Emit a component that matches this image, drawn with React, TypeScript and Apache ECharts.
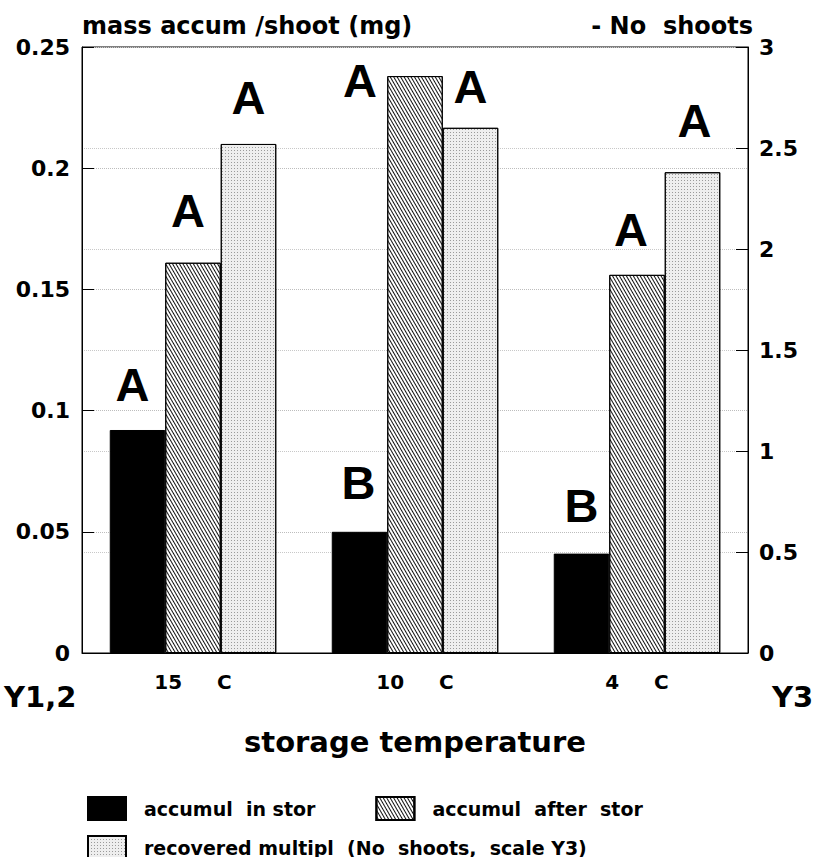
import React, { useEffect, useRef } from "react";
import * as echarts from "echarts";

// ---- data ----
const temperatures = ["15", "10", "4"];
const accumulInStor = [0.092, 0.05, 0.041];
const accumulAfterStor = [0.161, 0.238, 0.156];
const recoveredMultipl = [2.52, 2.6, 2.38]; // number of shoots, scale Y3
const lettersIn = ["A", "B", "B"];
const lettersAfter = ["A", "A", "A"];
const lettersRecovered = ["A", "A", "A"];
const leftTicks = { min: 0, max: 0.25, interval: 0.05 };
const rightTicks = { min: 0, max: 3, interval: 0.5 };

// ---- styling (label placement offsets, px) ----
const offsIn = [[-5, -22], [-1, -26], [0, -25]];
const offsAfter = [[-5, -29], [-55, 28], [-6, -22]];
const offsRec = [[0, -23], [0, -18], [2, -28]];

const FONT = '"DejaVu Sans", sans-serif';
const LFONT = '"Liberation Sans", Arial, sans-serif';

const hatchDecal = {
  symbol: "rect",
  symbolSize: 1,
  dashArrayX: [1, 0],
  dashArrayY: [1, 1.7],
  rotation: Math.PI / 3,
  color: "#111",
  backgroundColor: "#ffffff",
};
const dotDecal = {
  symbol: "rect",
  symbolSize: 1,
  dashArrayX: [1, 2],
  dashArrayY: [1, 2],
  color: "#9a9a9a",
  backgroundColor: "#eeeeee",
};

function withLetters(values: number[], letters: string[], offs: number[][]) {
  return values.map((v, i) => ({
    value: v,
    label: {
      show: true,
      position: "top",
      distance: 0,
      formatter: letters[i],
      offset: offs[i],
    },
  }));
}

const letterLabel = {
  show: true,
  fontFamily: LFONT,
  fontWeight: "bold",
  fontSize: 47,
  color: "#000",
};

export default function App() {
  const ref = useRef<HTMLDivElement>(null);
  useEffect(() => {
    if (!ref.current) return;
    const chart = echarts.init(ref.current, null, { renderer: "svg" });
    const axisText = { fontFamily: FONT, fontWeight: "bold", color: "#000" };
    chart.setOption({
      animation: false,
      backgroundColor: "#fff",
      grid: {
        left: 82,
        right: 71,
        top: 47,
        bottom: 204,
        show: true,
        borderColor: "#000",
        borderWidth: 1,
      },
      legend: [
        {
          data: ["accumul  in stor", "accumul  after  stor"],
          left: 82,
          top: 791,
          itemWidth: 38,
          itemHeight: 23,
          itemGap: 60,
          icon: "rect",
          textStyle: { ...axisText, fontSize: 19, padding: [0, 0, 0, 13] },
        },
        {
          data: ["recovered multipl  (No  shoots,  scale Y3)"],
          left: 82,
          top: 830,
          itemWidth: 38,
          itemHeight: 23,
          icon: "rect",
          textStyle: { ...axisText, fontSize: 19, padding: [0, 0, 0, 13] },
        },
      ],
      xAxis: {
        type: "category",
        data: temperatures,
        axisLine: { lineStyle: { color: "#000", width: 1 } },
        axisTick: { alignWithLabel: true, inside: true, length: 8, lineStyle: { color: "#000" } },
        axisLabel: {
          ...axisText,
          fontSize: 20,
          margin: 19,
          formatter: (v: string) => `${v}     C`,
        },
        name: "storage temperature",
        nameLocation: "middle",
        nameGap: 74,
        nameTextStyle: { ...axisText, fontSize: 29 },
      },
      yAxis: [
        {
          type: "value",
          ...leftTicks,
          position: "left",
          axisLine: { show: true, lineStyle: { color: "#000" } },
          axisTick: { show: true, inside: true, length: 12, lineStyle: { color: "#000" } },
          axisLabel: { ...axisText, fontSize: 22, margin: 12 },
          splitLine: { show: true, lineStyle: { color: "#bdbdbd", type: "dotted", width: 1 } },
          name: "mass accum /shoot (mg)",
          nameLocation: "end",
          nameGap: 9,
          nameTextStyle: { ...axisText, fontSize: 24, align: "left", verticalAlign: "bottom" },
        },
        {
          type: "value",
          ...rightTicks,
          position: "right",
          axisLine: { show: true, lineStyle: { color: "#000" } },
          axisTick: { show: true, inside: true, length: 12, lineStyle: { color: "#000" } },
          axisLabel: { ...axisText, fontSize: 22, margin: 11 },
          splitLine: { show: true, lineStyle: { color: "#c8c8c8", type: "dotted", width: 1 } },
          name: "- No  shoots",
          nameLocation: "end",
          nameGap: 9,
          nameTextStyle: { ...axisText, fontSize: 24, align: "right", verticalAlign: "bottom", padding: [0, -5, 0, 0] },
        },
      ],
      graphic: [
        {
          type: "text",
          left: 4,
          top: 682,
          style: { text: "Y1,2", font: `bold 29px ${FONT}`, fill: "#000" },
        },
        {
          type: "text",
          left: 772,
          top: 682,
          style: { text: "Y3", font: `bold 29px ${FONT}`, fill: "#000" },
        },
      ],
      series: [
        {
          name: "accumul  in stor",
          type: "bar",
          yAxisIndex: 0,
          barGap: "0%",
          barCategoryGap: "25%",
          data: withLetters(accumulInStor, lettersIn, offsIn),
          itemStyle: { color: "#000", borderColor: "#000", borderWidth: 1 },
          label: letterLabel,
        },
        {
          name: "accumul  after  stor",
          type: "bar",
          yAxisIndex: 0,
          barGap: "0%",
          barCategoryGap: "25%",
          data: withLetters(accumulAfterStor, lettersAfter, offsAfter),
          itemStyle: { color: "#fff", borderColor: "#000", borderWidth: 1, decal: hatchDecal },
          label: letterLabel,
        },
        {
          name: "recovered multipl  (No  shoots,  scale Y3)",
          type: "bar",
          yAxisIndex: 1,
          barGap: "0%",
          barCategoryGap: "25%",
          data: withLetters(recoveredMultipl, lettersRecovered, offsRec),
          itemStyle: { color: "#eee", borderColor: "#000", borderWidth: 1, decal: dotDecal },
          label: letterLabel,
        },
      ],
    });
    return () => chart.dispose();
  }, []);
  return (
    <div
      ref={ref}
      style={{ position: "fixed", left: 0, top: 0, width: 819, height: 857, background: "#fff" }}
    />
  );
}
